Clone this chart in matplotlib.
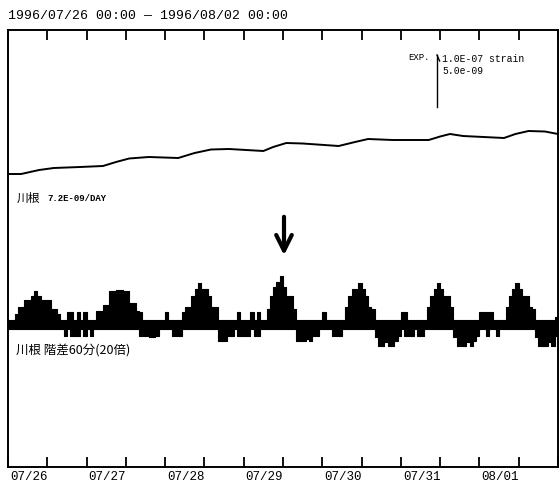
import numpy as np
import matplotlib
matplotlib.use("Agg")
import matplotlib.pyplot as plt

# ---------------- data ----------------
title_text = "1996/07/26 00:00 \u2014 1996/08/02 00:00"
day_labels = ["07/26", "07/27", "07/28", "07/29", "07/30", "07/31", "08/01"]
day_hours = [0, 24, 48, 72, 96, 120, 144]
tick_hours = list(range(0, 169, 12))

# upper trace: raw strain (1e-9 strain), relative
strain_hours = [0, 4, 9.5, 14, 22, 29, 33, 37, 43, 52, 57, 62, 67.5, 78, 81, 85, 90, 101,
                106, 110, 117.5, 128.5, 132, 135, 139, 151.5, 155, 159, 164, 168]
strain_vals = [0, 0, 8, 12, 14, 16, 24, 31, 34, 32, 42, 49, 50, 46, 54, 62, 61, 56,
               64, 70, 68, 68, 75, 80, 76, 72, 80, 86, 85, 80]

# lower trace: 60-min difference (x20), hourly upper / lower envelope
diff_hi = [9, 9, 21, 35, 35, 49, 49, 57, 67, 57, 49, 49, 49, 31, 31, 21, 9,
           9, 25, 25, 9, 25, 9, 25, 9, 9, 9,
           27, 27, 39, 39, 67, 67, 69, 69, 67, 67, 43, 43, 27,
           25, 9, 9, 9, 9, 9, 9, 9, 25, 9, 9, 9, 9, 25,
           35, 35, 57, 71, 83, 71, 71, 57, 35, 35,
           9, 9, 9, 9, 9, 9, 25, 9, 9, 9, 25, 9, 25, 9, 9,
           31, 57, 75, 85, 97, 75, 57, 57, 31,
           9, 9, 9, 9, 9, 9, 9, 9, 25, 9, 9, 9, 9, 9, 9,
           35, 57, 71, 71, 83, 71, 57, 35, 31,
           9, 9, 9, 9, 9, 9, 9, 9, 25, 25, 9, 9, 9, 9, 9, 9,
           35, 57, 71, 83, 71, 57, 57, 35,
           9, 9, 9, 9, 9, 9, 9, 9, 25, 25, 25, 25, 9, 9, 9, 9,
           35, 57, 71, 83, 71, 57, 57, 35, 31,
           9, 9, 9, 9, 9, 9, 15]
diff_lo = [-9] * 17 + [-23, -9, -23, -23, -23, -9, -23, -9, -23, -9] + [-9] * 13 + \
          [-23, -23, -23, -25, -25, -23, -9, -9, -9, -9, -23, -23, -23, -9] + [-9] * 10 + \
          [-33, -33, -33, -23, -23, -9, -23, -23, -23, -23, -9, -23, -23, -9, -9] + [-9] * 9 + \
          [-33, -33, -33, -29, -33, -23, -23, -9, -9, -9, -9, -23, -23, -23, -9] + [-9] * 9 + \
          [-25, -43, -43, -35, -43, -43, -33, -23, -9, -23, -23, -23, -9, -23, -23, -9] + [-9] * 8 + \
          [-25, -43, -43, -43, -35, -43, -33, -23, -9, -9, -23, -9, -9, -23, -9, -9] + [-9] * 9 + \
          [-25, -43, -43, -43, -35, -43, -23]

# ---------------- layout constants ----------------
Y_TOP = 874
STRAIN_BASE = 586
DIFF_BASE = 285

plt.rcParams['font.family'] = ['Liberation Mono', 'Noto Sans CJK JP', 'DejaVu Sans']

fig = plt.figure(figsize=(5.6, 4.93), dpi=100)
ax = fig.add_axes([8 / 560, 26 / 493, 550 / 560, 437 / 493])
ax.set_xlim(0, 168)
ax.set_ylim(0, Y_TOP)

# upper trace
ax.plot(strain_hours, [v + STRAIN_BASE for v in strain_vals], color='black', lw=1.4)

# lower trace (stepped, filled)
hrs = np.arange(len(diff_hi) + 1)
hi = np.array(diff_hi + [diff_hi[-1]]) + DIFF_BASE
lo = np.array(diff_lo + [diff_lo[-1]]) + DIFF_BASE
ax.fill_between(hrs, lo, hi, step='post', color='black', lw=0.8, edgecolor='black')

# ticks
ax.set_xticks(tick_hours)
ax.set_xticklabels([])
ax.set_yticks([])
ax.tick_params(axis='x', direction='in', length=7, width=1.3, top=True, bottom=True)
for s in ax.spines.values():
    s.set_linewidth(1.4)

for h, lab in zip(day_hours, day_labels):
    ax.text(h + 0.6, -8, lab, ha='left', va='top', fontsize=9, family='Liberation Mono')

fig.text(8 / 560, 1 - 16 / 493, title_text, ha='left', va='center', fontsize=9.5,
         family=['Liberation Mono', 'DejaVu Sans'])

# scale bar
bx = (437 - 8) * 168 / 550
ax.plot([bx, bx], [720, 824], color='black', lw=1.0)
ax.plot([bx, bx + 0.8], [824, 812], color='black', lw=1.0)
ax.text(bx - 2.2, 820, "EXP.", ha='right', va='center', fontsize=6.5)
ax.text(bx + 1.6, 815, "1.0E-07 strain", ha='left', va='center', fontsize=7)
ax.text(bx + 1.6, 793, "5.0e-09", ha='left', va='center', fontsize=7)

# labels
ax.text(2.5, 537, "川根", ha='left', va='center', fontsize=8.5, family='Noto Sans CJK JP')
ax.text(12, 537, "7.2E-09/DAY", ha='left', va='center', fontsize=6.5, weight='bold')
ax.text(2.5, 231, "川根 階差60分(20倍)", ha='left', va='center', fontsize=9,
        family='Noto Sans CJK JP')

# arrow
ax_h = (284 - 8) * 168 / 550
ax.annotate('', xy=(ax_h, 418), xytext=(ax_h, 506),
            arrowprops=dict(arrowstyle='->', lw=3, color='black', mutation_scale=28))

fig.savefig('out.png', dpi=100, facecolor='white')
